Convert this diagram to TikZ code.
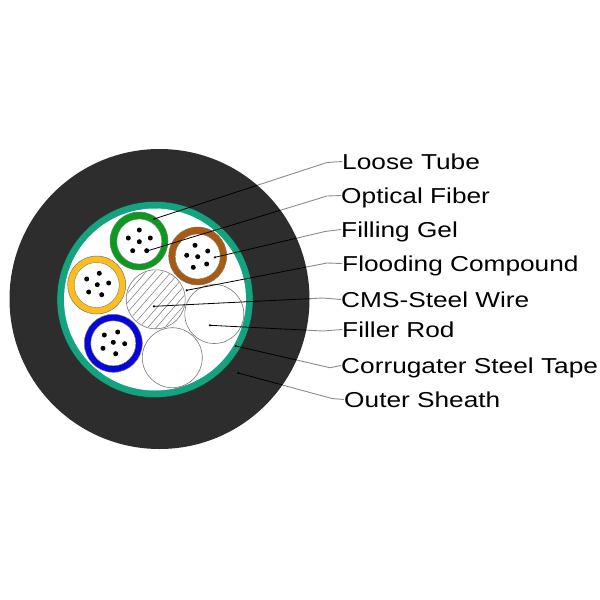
\documentclass[tikz,border=0pt]{standalone}
\usepackage{fontspec}
\setmainfont{Liberation Sans}
\definecolor{sheath}{HTML}{2D2D2D}
\definecolor{tape}{HTML}{14A37F}
\definecolor{tubegreen}{HTML}{0C9A1E}
\definecolor{tubebrown}{HTML}{A85A10}
\definecolor{tubeyellow}{HTML}{FBBE1C}
\definecolor{tubeblue}{HTML}{0606DC}
\definecolor{wirecol}{HTML}{777777}
\definecolor{leadercol}{HTML}{8C8C8C}
\tikzset{
  tubering/.style={circle,draw=wirecol,line width=0.5pt,minimum size=58pt,inner sep=0pt},
  tubecore/.style={circle,draw=wirecol,line width=0.4pt,fill=white,minimum size=45pt,inner sep=0pt},
  solidrod/.style={circle,draw=wirecol,line width=0.6pt,fill=white,minimum size=59pt,inner sep=0pt},
  fiberdot/.style={circle,fill=black,minimum size=5pt,inner sep=0pt},
  partlabel/.style={anchor=base west,inner sep=0pt,text height=15pt,text depth=0pt,
    font=\fontsize{21.6pt}{24pt}\selectfont,text=black,xscale=1.215,transform shape},
  leader/.style={draw=leadercol,line width=0.9pt},
  leaderdark/.style={draw=black,line width=0.8pt}
}
% six fibres, placed in pixels
\newcommand{\fiber}[3]{\node[fiberdot] (#1) at (#2,#3) {};}
\begin{document}
\begin{tikzpicture}[x=1pt,y=-1pt]
\useasboundingbox (0,0) rectangle (600,600);
\fill[white] (0,0) rectangle (600,600);

% cable layers
\node[circle,fill=sheath,minimum size=300pt,inner sep=0pt] (sheathdisc) at (159.5,299) {};
\node[circle,fill=tape,draw=sheath,line width=0.3pt,minimum size=196pt,inner sep=0pt] (tapedisc) at (155,299.5) {};
\node[circle,fill=white,minimum size=182pt,inner sep=0pt] (interior) at (155,299.5) {};

% loose tubes
\node[tubering,fill=tubegreen] (greenring) at (139,241) {};
\node[tubecore] (greencore) at (139.3,241.5) {};
\node[tubering,fill=tubebrown] (brownring) at (197.7,256) {};
\node[tubecore] (browncore) at (197.7,256.5) {};
\node[tubering,fill=tubeyellow] (yellowring) at (96.7,285) {};
\node[tubecore] (yellowcore) at (96.7,285) {};
\node[tubering,fill=tubeblue] (bluering) at (113.3,343.3) {};
\node[tubecore] (bluecore) at (113.3,343.3) {};

% central steel wire with its hatching
\node[solidrod] (steel) at (155.7,299.3) {};
\begin{scope}
  \clip (155.7,299.3) circle (28.8);
  \foreach \k in {-7,...,7}
    \draw[wirecol,line width=0.5pt] ({155.7+\k*8.4-35},{299.3+40}) -- ({155.7+\k*8.4+35},{299.3-40});
\end{scope}

% filler rods
\node[solidrod] (fillerright) at (214.3,314) {};
\node[solidrod,minimum size=60pt] (fillerbottom) at (172.3,357.7) {};

% fibres
\fiber{ga}{139.3}{241.7}\fiber{gb}{139.3}{230}\fiber{gc}{128.3}{238}\fiber{gd}{150.3}{238}\fiber{ge}{132.7}{250.7}\fiber{gf}{146.7}{250.7}
\fiber{ba}{197.7}{256.7}\fiber{bb}{195}{245.3}\fiber{bc}{207.7}{251}\fiber{bd}{186.7}{255.3}\fiber{be}{206.7}{264}\fiber{bf}{193.3}{267.3}
\fiber{ya}{97.3}{284.7}\fiber{yb}{99.3}{273.3}\fiber{yc}{86.7}{279}\fiber{yd}{108.7}{283}\fiber{ye}{88.7}{292}\fiber{yf}{101.7}{294.7}
\fiber{la}{113.3}{342.3}\fiber{lb}{117.7}{332}\fiber{lc}{104.3}{335}\fiber{ld}{124.7}{343.7}\fiber{le}{103}{348.3}\fiber{lf}{115.7}{353.7}

% labels
\node[partlabel] (loose) at (342,169) {Loose Tube};
\node[partlabel] (optical) at (341,203) {Optical Fiber};
\node[partlabel] (gel) at (341,237) {Filling Gel};
\node[partlabel] (flooding) at (342,271) {Flooding Compound};
\node[partlabel] (cms) at (341,307) {CMS-Steel Wire};
\node[partlabel] (rod) at (342,337) {Filler Rod};
\node[partlabel] (tapelabel) at (341,373) {Corrugater Steel Tape};
\node[partlabel] (outer) at (344,407) {Outer Sheath};

% leader start points and elbows
\coordinate (loosestart) at (154,219);      \coordinate (looseelbow) at (327,162.5);
\coordinate (opticalstart) at (148,250.7);  \coordinate (opticalelbow) at (327,196);
\coordinate (gelstart) at (215,257.3);      \coordinate (gelelbow) at (325,231.5);
\coordinate (floodstart) at (186.7,290.3);  \coordinate (floodelbow) at (327,263);
\coordinate (cmsstart) at (154,306.3);      \coordinate (cmselbow) at (323,298);
\coordinate (rodstart) at (210,325.3);      \coordinate (rodelbow) at (323,331);
\coordinate (tapestart) at (235.7,346);     \coordinate (tapeelbow) at (330,367.7);
\coordinate (outerstart) at (238.3,373);    \coordinate (outerelbow) at (332,398.5);

% leaders: grey in the open, black where they cross the cable
\foreach \s/\e/\l in {loosestart/looseelbow/loose,opticalstart/opticalelbow/optical,
    gelstart/gelelbow/gel,floodstart/floodelbow/flooding,cmsstart/cmselbow/cms,
    rodstart/rodelbow/rod,tapestart/tapeelbow/tapelabel,outerstart/outerelbow/outer}{
  \begin{scope}[even odd rule]
    \clip (0,0) rectangle (600,600) (159.5,299) circle (150);
    \draw[leader] (\s) -- (\e) -- (\l.west);
  \end{scope}
  \begin{scope}
    \clip (159.5,299) circle (150);
    \draw[leaderdark] (\s) -- (\e);
  \end{scope}
  \fill[black] (\s) circle (1.2);
}
\end{tikzpicture}
\end{document}
